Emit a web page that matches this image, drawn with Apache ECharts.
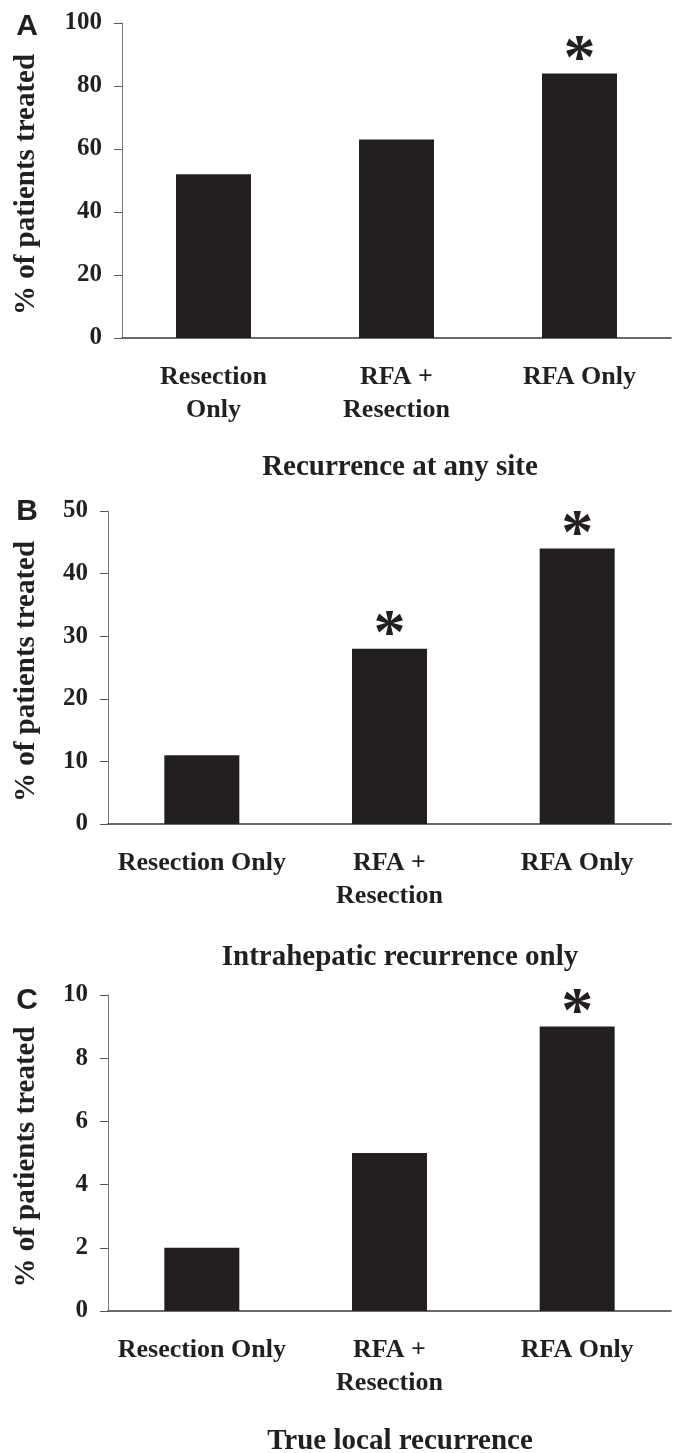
<!DOCTYPE html>
<html>
<head>
<meta charset="utf-8">
<script src="https://cdn.jsdelivr.net/npm/echarts@6/dist/echarts.min.js"></script>
<style>
  html, body { margin: 0; padding: 0; background: #fff; }
  #chart { width: 679px; height: 1453px; }
</style>
</head>
<body>
<div id="chart"></div>
<script>
// categories
const catsA = ['Resection\nOnly', 'RFA +\nResection', 'RFA Only']
const catsBC = ['Resection Only', 'RFA +\nResection', 'RFA Only']

// % of patients treated
const anySite = [52, 63, 84]
const intrahepatic = [11, 28, 44]
const trueLocal = [2, 5, 9]

// significance asterisks (1 = marked)
const sigA = [0, 0, 1]
const sigB = [0, 1, 1]
const sigC = [0, 0, 1]

const panelLetters = ['A', 'B', 'C']
const panelTitles = ['Recurrence at any site', 'Intrahepatic recurrence only', 'True local recurrence']
const yName = '% of patients treated'

const ink = '#231f20'
const serif = 'Liberation Serif'

// grid boxes (px)
const grids = [
  { left: 122, right: 8, top: 23, height: 315 },
  { left: 108, right: 8, top: 511, height: 313 },
  { left: 108, right: 8, top: 995, height: 316 }
]
const yMax = [100, 50, 10]
const yStep = [20, 10, 2]
const titleY = [468, 958, 1442]
const letterY = [27, 512, 1001]

const chart = echarts.init(document.getElementById('chart'))

const xAxes = [catsA, catsBC, catsBC].map((cats, i) => ({
  type: 'category',
  gridIndex: i,
  data: cats,
  axisLine: { lineStyle: { color: '#3a3a3a', width: 1.5 } },
  axisTick: { length: 8, lineStyle: { color: '#3a3a3a', width: 1 } },
  axisLabel: {
    interval: 0,
    margin: 23,
    color: ink,
    fontFamily: serif,
    fontWeight: 'bold',
    fontSize: 26,
    lineHeight: 33
  }
}))

const yAxes = grids.map((g, i) => ({
  type: 'value',
  gridIndex: i,
  min: 0,
  max: yMax[i],
  interval: yStep[i],
  splitLine: { show: false },
  axisLine: { show: true, lineStyle: { color: '#777', width: 1 } },
  axisTick: { show: true, length: 8, lineStyle: { color: '#555', width: 1 } },
  axisLabel: {
    margin: 20,
    color: ink,
    fontFamily: serif,
    fontWeight: 'bold',
    fontSize: 25
  }
}))

const series = [anySite, intrahepatic, trueLocal].map((vals, i) => {
  const sig = [sigA, sigB, sigC][i]
  return {
    type: 'bar',
    xAxisIndex: i,
    yAxisIndex: i,
    data: vals,
    barWidth: 75,
    itemStyle: { color: ink },
    label: {
      show: true,
      position: 'top',
      distance: -20,
      formatter: (p) => (sig[p.dataIndex] ? '*' : ''),
      color: ink,
      fontFamily: serif,
      fontWeight: 'bold',
      fontSize: 64
    }
  }
})

const graphic = []
grids.forEach((g, i) => {
  const midY = g.top + g.height / 2 + 4
  graphic.push({
    type: 'text',
    x: 27, y: letterY[i],
    style: {
      text: panelLetters[i], fill: ink,
      font: 'bold 30px "Liberation Sans"',
      textAlign: 'center', textVerticalAlign: 'middle'
    }
  })
  graphic.push({
    type: 'text',
    x: 27, y: midY,
    rotation: Math.PI / 2,
    style: {
      text: yName, fill: ink,
      font: 'bold 29px "Liberation Serif"',
      textAlign: 'center', textVerticalAlign: 'middle'
    }
  })
  graphic.push({
    type: 'text',
    x: 400, y: titleY[i],
    style: {
      text: panelTitles[i], fill: ink,
      font: 'bold 29px "Liberation Serif"',
      textAlign: 'center', textVerticalAlign: 'middle'
    }
  })
})

chart.setOption({
  animation: false,
  grid: grids,
  xAxis: xAxes,
  yAxis: yAxes,
  series: series,
  graphic: graphic
})
</script>
</body>
</html>
